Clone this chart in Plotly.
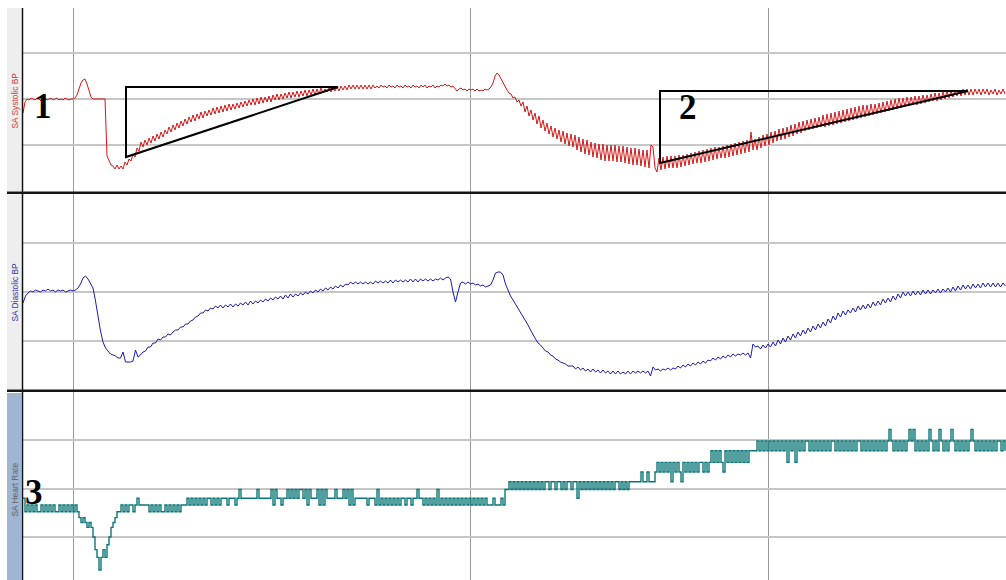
import plotly.graph_objects as go

# ---------------- data ----------------
# sample index spacing (arbitrary time units); vertical grid marks
sys_dt = 2
dia_dt = 2.5
hr_dt = 2
time_marks = [50, 447, 745]

# SA Systolic BP (arbitrary pressure units)
systolic = [
    107, 118, 121, 120, 122, 121, 120, 122, 121, 119, 121, 122, 120, 121, 122, 120, 121, 122, 120, 121, 120, 122, 121, 120, 121,
    121, 122, 125, 131, 137, 140, 141, 136, 128, 123, 121, 121, 121, 121, 121, 121, 121, 64, 59, 55, 54, 51, 55, 51, 54,
    51, 58, 55, 61, 59, 66, 63, 72, 69, 78, 73, 80, 75, 82, 77, 84, 79, 86, 81, 88, 83, 90, 86, 93, 88,
    95, 90, 97, 92, 99, 94, 101, 96, 103, 98, 105, 99, 106, 101, 108, 102, 109, 104, 110, 105, 112, 106, 113, 107, 114,
    108, 115, 109, 116, 110, 116, 111, 117, 112, 118, 113, 119, 114, 120, 115, 121, 115, 122, 116, 123, 117, 123, 118, 124, 118,
    125, 120, 126, 120, 126, 121, 127, 122, 128, 122, 128, 123, 129, 123, 129, 124, 130, 124, 130, 125, 131, 125, 131, 126, 132,
    127, 131, 128, 132, 128, 132, 129, 133, 129, 134, 130, 134, 130, 135, 131, 135, 131, 135, 131, 135, 131, 135, 131, 135, 131,
    135, 132, 134, 132, 135, 133, 134, 132, 135, 133, 134, 132, 135, 133, 134, 132, 135, 133, 134, 132, 135, 133, 134, 132, 135,
    133, 135, 132, 134, 133, 135, 132, 134, 133, 135, 134, 136, 134, 135, 133, 134, 132, 129, 131, 132, 130, 131, 129, 131, 130,
    131, 129, 131, 129, 130, 129, 131, 130, 131, 133, 137, 144, 147, 145, 141, 138, 134, 130, 127, 126, 122, 123, 118, 120, 114,
    118, 108, 114, 104, 110, 100, 107, 96, 104, 92, 100, 89, 97, 86, 94, 83, 92, 81, 90, 78, 89, 76, 87, 74, 86,
    73, 85, 70, 83, 68, 81, 66, 80, 65, 78, 63, 77, 62, 76, 60, 76, 59, 75, 59, 75, 59, 75, 58, 74, 58,
    74, 57, 73, 56, 72, 55, 72, 55, 71, 54, 70, 53, 70, 52, 75, 73, 52, 48, 62, 50, 63, 51, 64, 52, 64,
    52, 64, 52, 65, 53, 65, 54, 66, 55, 67, 56, 68, 57, 69, 57, 70, 58, 71, 59, 72, 60, 73, 61, 73, 62,
    74, 62, 75, 63, 76, 64, 77, 65, 78, 66, 79, 67, 80, 68, 88, 70, 81, 70, 83, 72, 85, 74, 86, 75, 88,
    77, 89, 79, 91, 80, 92, 81, 93, 83, 95, 84, 96, 86, 98, 87, 99, 89, 100, 90, 101, 91, 102, 92, 103, 93,
    105, 93, 106, 94, 107, 95, 108, 96, 109, 97, 110, 98, 111, 99, 112, 100, 113, 101, 114, 102, 115, 103, 115, 104, 116,
    105, 116, 106, 117, 107, 118, 108, 119, 109, 120, 110, 121, 111, 122, 112, 122, 113, 123, 114, 123, 115, 124, 115, 124, 116,
    125, 117, 125, 118, 126, 119, 127, 119, 127, 120, 128, 121, 129, 122, 129, 123, 130, 124, 130, 124, 131, 125, 131, 125, 131,
    125, 131, 126, 131, 125, 131, 126, 131, 125, 130, 126, 131, 125, 130, 126, 131, 126,
]

# SA Diastolic BP (arbitrary pressure units)
diastolic = [
    97, 104, 107, 109, 108, 110, 109, 108, 110, 109, 111, 109, 110, 108, 110, 109, 110, 108, 109, 110,
    109, 110, 112, 116, 122, 124, 121, 117, 112, 99, 82, 69, 58, 52, 49, 46, 45, 44, 42, 42,
    48, 38, 38, 38, 39, 50, 43, 45, 48, 49, 53, 53, 57, 57, 61, 60, 63, 63, 66, 65,
    68, 70, 70, 73, 73, 76, 76, 79, 80, 83, 84, 87, 87, 90, 89, 92, 91, 94, 92, 95,
    92, 95, 93, 96, 93, 96, 94, 97, 95, 98, 95, 99, 96, 99, 97, 100, 98, 101, 99, 102,
    100, 103, 101, 104, 101, 105, 102, 106, 103, 106, 104, 107, 105, 108, 106, 109, 107, 110, 108, 111,
    109, 112, 110, 113, 111, 114, 112, 115, 113, 116, 115, 118, 116, 118, 116, 118, 116, 118, 116, 118,
    116, 119, 117, 119, 117, 119, 117, 120, 117, 120, 118, 120, 118, 120, 118, 121, 118, 121, 118, 121,
    119, 121, 119, 121, 119, 121, 120, 122, 120, 122, 123, 121, 108, 98, 108, 117, 118, 116, 118, 116,
    117, 115, 116, 114, 115, 113, 114, 115, 120, 127, 128, 128, 125, 116, 110, 104, 100, 96, 92, 87,
    83, 79, 75, 70, 65, 61, 57, 55, 52, 49, 48, 45, 44, 41, 40, 38, 37, 36, 34, 34,
    34, 31, 33, 30, 32, 29, 31, 28, 31, 28, 30, 27, 30, 27, 29, 26, 29, 26, 29, 26,
    28, 26, 29, 26, 29, 27, 29, 27, 29, 27, 29, 24, 33, 30, 31, 29, 31, 30, 32, 30,
    32, 31, 34, 32, 35, 33, 36, 34, 37, 35, 38, 36, 39, 37, 40, 39, 42, 40, 43, 41,
    44, 42, 45, 43, 46, 44, 46, 45, 47, 45, 47, 42, 56, 53, 54, 51, 55, 52, 56, 53,
    58, 54, 60, 56, 62, 58, 64, 60, 66, 62, 68, 64, 70, 66, 72, 68, 74, 70, 76, 72,
    78, 74, 81, 77, 84, 80, 87, 83, 89, 85, 90, 87, 92, 88, 94, 90, 95, 91, 96, 92,
    98, 94, 99, 95, 101, 97, 102, 98, 104, 100, 106, 102, 108, 104, 108, 104, 109, 105, 109, 105,
    110, 106, 110, 106, 110, 107, 111, 107, 111, 108, 112, 108, 113, 109, 114, 110, 115, 111, 115, 111,
    116, 112, 116, 112, 117, 113, 117, 113, 117, 113, 117, 113, 117, 114,
]

# SA Heart Rate (bpm)
heart_rate = [
    64.0, 62.6, 63.3, 62.6, 63.3, 62.6, 63.3, 62.6, 62.6, 63.3, 62.6, 63.3, 62.6, 63.3, 62.6, 63.3, 62.6, 62.6, 63.3, 62.6, 63.3, 62.6, 63.3, 62.6, 63.3,
    62.6, 63.3, 62.6, 62.0, 61.5, 62.0, 61.5, 61.0, 61.5, 61.0, 60.0, 58.7, 57.9, 56.6, 57.9, 58.7, 57.9, 59.2, 60.0, 61.0, 61.5, 62.0, 62.6, 62.6, 63.3,
    62.6, 63.3, 62.6, 63.3, 63.3, 62.6, 63.3, 64.0, 63.3, 63.3, 63.3, 63.3, 63.3, 62.6, 63.3, 62.6, 63.3, 62.6, 63.3, 62.6, 62.6, 63.3, 62.6, 63.3, 62.6,
    63.3, 62.6, 63.3, 62.6, 63.3, 63.3, 63.3, 64.0, 63.3, 64.0, 63.3, 64.0, 63.3, 64.0, 63.3, 64.0, 63.3, 64.0, 64.0, 63.3, 64.0, 63.3, 64.0, 63.3, 64.0,
    64.0, 64.0, 63.3, 64.0, 64.0, 64.0, 63.3, 64.0, 64.9, 64.0, 64.0, 64.0, 64.0, 64.0, 64.0, 64.0, 64.0, 64.9, 64.0, 64.0, 64.0, 64.0, 64.0, 64.0, 64.9,
    63.3, 64.9, 64.0, 64.0, 63.3, 64.0, 64.0, 64.9, 64.0, 64.9, 64.0, 64.9, 64.0, 64.9, 64.9, 64.0, 64.9, 63.3, 64.9, 64.0, 64.0, 64.0, 64.9, 63.3, 64.9,
    63.3, 64.9, 64.0, 64.0, 64.0, 64.0, 64.9, 64.0, 64.0, 64.0, 64.9, 64.0, 64.9, 63.3, 64.9, 63.3, 64.0, 64.0, 64.0, 64.0, 64.0, 64.0, 63.3, 64.0, 64.0,
    64.0, 63.3, 64.9, 63.3, 64.0, 63.3, 64.0, 63.3, 64.0, 63.3, 64.0, 63.3, 64.0, 63.3, 64.0, 64.0, 63.3, 64.0, 64.0, 63.3, 64.0, 64.0, 64.9, 64.0, 64.0,
    63.3, 64.0, 63.3, 64.0, 63.3, 64.0, 63.3, 64.9, 63.3, 64.0, 63.3, 64.0, 63.3, 64.0, 63.3, 64.0, 63.3, 64.0, 63.3, 64.0, 63.3, 64.0, 63.3, 64.0, 63.3,
    64.0, 63.3, 64.0, 63.3, 64.0, 63.3, 64.0, 63.3, 63.3, 63.3, 64.0, 63.3, 63.3, 63.3, 64.0, 63.3, 64.9, 64.9, 65.7, 64.9, 65.7, 64.9, 65.7, 64.9, 65.7,
    64.9, 65.7, 64.9, 65.7, 64.9, 65.7, 64.9, 65.7, 64.9, 65.7, 64.9, 65.7, 65.7, 64.9, 65.7, 65.7, 64.9, 65.7, 65.7, 64.9, 65.7, 64.9, 65.7, 65.7, 64.9,
    65.7, 65.7, 64.0, 65.7, 64.9, 65.7, 64.9, 65.7, 64.9, 65.7, 64.9, 65.7, 64.9, 65.7, 64.9, 65.7, 64.9, 65.7, 64.9, 65.7, 64.9, 65.7, 65.7, 64.9, 65.7,
    64.9, 65.7, 64.9, 65.7, 65.7, 65.7, 65.7, 65.7, 65.7, 66.7, 65.7, 65.7, 66.7, 65.7, 65.7, 65.7, 66.7, 67.7, 66.7, 67.7, 66.7, 67.7, 66.7, 67.7, 65.7,
    67.7, 66.7, 67.7, 66.7, 65.7, 67.7, 66.7, 67.7, 66.7, 67.7, 66.7, 67.7, 66.7, 67.7, 67.7, 66.7, 67.7, 66.7, 67.7, 68.9, 67.7, 68.9, 67.7, 68.9, 67.7,
    66.7, 68.9, 67.7, 68.9, 67.7, 68.9, 67.7, 68.9, 67.7, 68.9, 67.7, 68.9, 67.7, 68.9, 68.9, 68.9, 68.9, 69.9, 68.9, 69.9, 68.9, 69.9, 68.9, 69.9, 68.9,
    69.9, 68.9, 69.9, 68.9, 69.9, 68.9, 69.9, 67.7, 69.9, 68.9, 69.9, 67.7, 69.9, 68.9, 69.9, 68.9, 69.9, 69.9, 68.9, 69.9, 68.9, 69.9, 68.9, 69.9, 68.9,
    69.9, 68.9, 69.9, 68.9, 69.9, 69.9, 68.9, 69.9, 68.9, 69.9, 68.9, 69.9, 68.9, 69.9, 68.9, 69.9, 68.9, 69.9, 69.9, 68.9, 69.9, 68.9, 69.9, 68.9, 69.9,
    68.9, 69.9, 68.9, 69.9, 68.9, 69.9, 68.9, 69.9, 71.1, 69.9, 68.9, 69.9, 68.9, 69.9, 68.9, 69.9, 68.9, 69.9, 71.1, 69.9, 71.1, 68.9, 69.9, 68.9, 69.9,
    68.9, 69.9, 68.9, 71.1, 69.9, 68.9, 69.9, 68.9, 71.1, 69.9, 68.9, 69.9, 68.9, 69.9, 71.1, 69.9, 68.9, 69.9, 68.9, 69.9, 68.9, 69.9, 68.9, 69.9, 71.1,
    69.9, 68.9, 69.9, 68.9, 69.9, 68.9, 69.9, 68.9, 69.9, 68.9, 69.9, 68.9, 69.9, 69.9, 68.9, 69.9, 68.9,
]

# recovery-slope triangles drawn on the systolic trace: (t_start, t_end, low, high)
triangle_1 = [103, 315, 63, 133]
triangle_2 = [637, 945, 57, 129]

panel_titles = ["SA Systolic BP", "SA Diastolic BP", "SA Heart Rate"]
marker_labels = ["1", "2", "3"]

# ---------------- figure ----------------
W, H = 1006, 580
def fy(px):  # paper fraction from pixel row
    return 1 - px / H
def fx(px):
    return px / W

t_sys = [i * sys_dt for i in range(len(systolic))]
t_dia = [i * dia_dt for i in range(len(diastolic))]
t_hr = [i * hr_dt for i in range(len(heart_rate))]

fig = go.Figure()
fig.add_trace(go.Scatter(x=t_sys, y=systolic, mode="lines", line=dict(color="#d01818", width=1),
                         xaxis="x", yaxis="y", hoverinfo="skip", showlegend=False))
fig.add_trace(go.Scatter(x=t_dia, y=diastolic, mode="lines", line=dict(color="#1c1ca8", width=1),
                         xaxis="x2", yaxis="y2", hoverinfo="skip", showlegend=False))
fig.add_trace(go.Scatter(x=t_hr, y=heart_rate, mode="lines", line=dict(color="#0b7676", width=1.4, shape="hv"),
                         xaxis="x3", yaxis="y3", hoverinfo="skip", showlegend=False))

xdom = [fx(22.5), 1]
xrng = [-0.5, 983]
vgrid = dict(showgrid=True, gridcolor="#9a9a9a", gridwidth=1, tickvals=time_marks,
             showticklabels=False, ticks="", zeroline=False, showline=False, range=xrng, domain=xdom)
hgrid = dict(showgrid=True, gridcolor="#c6c6c6", gridwidth=1.5, showticklabels=False, ticks="",
             zeroline=False, showline=False)

fig.update_layout(
    width=W, height=H, margin=dict(l=0, r=0, t=0, b=0),
    paper_bgcolor="white", plot_bgcolor="white", showlegend=False,
    xaxis=dict(anchor="y", **vgrid),
    xaxis2=dict(anchor="y2", matches="x", **vgrid),
    xaxis3=dict(anchor="y3", matches="x", **vgrid),
    yaxis=dict(anchor="x", domain=[fy(192), fy(8)], range=[28, 212], tickvals=[75, 121, 167], **hgrid),
    yaxis2=dict(anchor="x2", domain=[fy(390), fy(194)], range=[10, 206], tickvals=[59, 108, 157], **hgrid),
    yaxis3=dict(anchor="x3", domain=[0, fy(392)], range=[55.57, 74.95], tickvals=[60, 65, 70], **hgrid),
)

shapes = []
# left title strips
strip_rows = [(8, 191, "#eeeeee"), (194.5, 389, "#eeeeee"), (393, 580, "#9fb5d2")]
for top, bot, col in strip_rows:
    shapes.append(dict(type="rect", xref="paper", yref="paper", x0=fx(7), x1=fx(21.5),
                       y0=fy(bot), y1=fy(top), fillcolor=col, line=dict(width=0), layer="below"))
# left black axis line
shapes.append(dict(type="line", xref="paper", yref="paper", x0=fx(22.5), x1=fx(22.5),
                   y0=0, y1=fy(8), line=dict(color="#111111", width=1.5)))
# thick separators
for py in (192.8, 390.8):
    shapes.append(dict(type="line", xref="paper", yref="paper", x0=fx(7), x1=1,
                       y0=fy(py), y1=fy(py), line=dict(color="#151515", width=2.6)))
# triangles
for tri in (triangle_1, triangle_2):
    t0, t1, lo, hi = tri
    shapes.append(dict(type="path", xref="x", yref="y",
                       path=f"M {t0},{lo} L {t0},{hi} L {t1},{hi} Z",
                       line=dict(color="black", width=2)))
fig.update_layout(shapes=shapes)

annotations = []
title_pos = [(101, "#d03a3a"), (292, "#3535b0"), (490, "#5f6470")]
for text, (cy, col) in zip(panel_titles, title_pos):
    annotations.append(dict(text=text, xref="paper", yref="paper", x=fx(14.5), y=fy(cy),
                            xanchor="center", yanchor="middle", textangle=-90, showarrow=False,
                            font=dict(family="Liberation Sans, Arial, sans-serif", size=8.4, color=col)))
label_pos = [("x", "y", 20, 114), ("x", "y", 665, 113), ("x3", "y3", 11, 64.6)]
for text, (xr, yr, xv, yv) in zip(marker_labels, label_pos):
    annotations.append(dict(text=f"<b>{text}</b>", xref=xr, yref=yr, x=xv, y=yv,
                            xanchor="center", yanchor="middle", showarrow=False,
                            font=dict(family="Liberation Serif, Times New Roman, serif", size=35, color="black")))
fig.update_layout(annotations=annotations)

fig.write_html("out.html", config={"displayModeBar": False},
               post_script="document.body.style.margin='0';document.body.style.padding='0';document.documentElement.style.overflow='hidden';")
